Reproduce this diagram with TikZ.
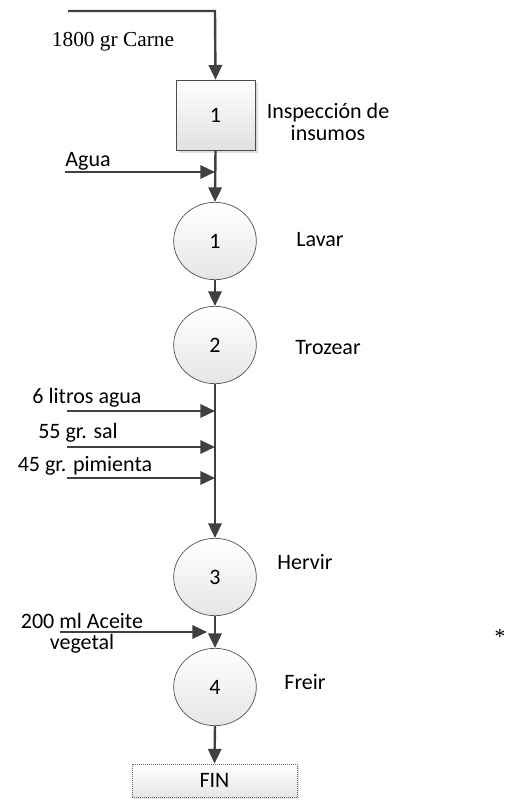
\documentclass[tikz,border=0pt]{standalone}
\usepackage{fontspec}
\setmainfont{Carlito}
\newfontfamily\serifont{Liberation Serif}
\usetikzlibrary{arrows.meta,shadows,shapes.geometric}
\begin{document}
\begin{tikzpicture}[x=0.75pt,y=-0.75pt,
  flow/.style={draw=black!75, line width=1.8pt, -{Triangle[length=11pt,width=10pt]}},
  op/.style={ellipse, draw=black!70, line width=0.5pt, minimum width=62pt, minimum height=58pt, top color=white, bottom color=black!10, font=\fontsize{16.5}{17}\selectfont},
  insp/.style={rectangle, draw=black!70, line width=0.5pt, minimum width=59pt, minimum height=52.5pt, top color=white, bottom color=black!12, drop shadow={shadow xshift=2pt, shadow yshift=-2pt, fill=black!25}, font=\fontsize{16.5}{17}\selectfont},
  finbox/.style={rectangle, draw=black!60, densely dotted, line width=0.5pt, minimum width=124pt, minimum height=25pt, top color=white, bottom color=black!10, drop shadow={shadow xshift=1.5pt, shadow yshift=-1.5pt, fill=black!20}, font=\fontsize{16.5}{17}\selectfont},
  lbl/.style={inner sep=0pt, font=\fontsize{16.5}{16}\selectfont, align=center}
]
\useasboundingbox (0,0) rectangle (523,800);
\fill[white] (0,0) rectangle (523,800);

% nodes
\node[insp] (b1) at (215.5,115) {1};
\node[op] (c1) at (215,241) {1};
\node[op] (c2) at (215,345) {2};
\node[op] (c3) at (215,577) {3};
\node[op] (c4) at (215,687) {4};
\node[finbox] (fin) at (214.5,780.5) {FIN};

% labels
\node[lbl, font=\serifont\fontsize{16}{16}\selectfont] (tcarne) at (113,42) {1800 gr Carne};
\node[lbl] (tinsp) at (328,122) {Inspección de\\insumos};
\node[lbl] (tagua) at (88,161) {Agua};
\node[lbl] (tlavar) at (320,240) {Lavar};
\node[lbl] (ttroz) at (328,348) {Trozear};
\node[lbl] (t6) at (87,398) {6 litros agua};
\node[lbl] (t55) at (78,433) {55 gr. sal};
\node[lbl] (t45) at (85,466) {45 gr. pimienta};
\node[lbl] (therv) at (305,562) {Hervir};
\node[lbl] (tacei) at (82,633) {200 ml Aceite\\vegetal};
\node[lbl] (tfreir) at (305,682) {Freir};
\node[lbl, font=\serifont\fontsize{16}{16}\selectfont] (tast) at (500,637) {*};

% coordinates
\coordinate (s0) at (68,11);
\coordinate (k0) at (215,11);
\coordinate (sa) at (65,172);
\coordinate (ea) at (215,172);
\coordinate (s6) at (67,411);
\coordinate (e6) at (215,411);
\coordinate (s55) at (67,447);
\coordinate (e55) at (215,447);
\coordinate (s45) at (67,478);
\coordinate (e45) at (215,478);
\coordinate (sac) at (60,632);
\coordinate (eac) at (207,632);

% connectors
\draw[flow] (s0) -- (k0) -- (b1.north);
\draw[flow] (b1.south) -- (c1.north);
\draw[flow] (sa) -- (ea);
\draw[flow] (c1.south) -- (c2.north);
\draw[flow] (c2.south) -- (c3.north);
\draw[flow] (s6) -- (e6);
\draw[flow] (s55) -- (e55);
\draw[flow] (s45) -- (e45);
\draw[flow] (c3.south) -- (c4.north);
\draw[flow] (sac) -- (eac);
\draw[flow] (c4.south) -- (fin.north);
\end{tikzpicture}
\end{document}
